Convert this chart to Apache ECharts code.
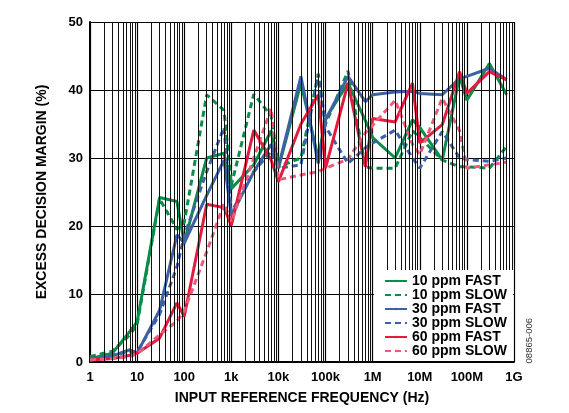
<!DOCTYPE html>
<html>
<head>
<meta charset="utf-8">
<title>Excess decision margin vs input reference frequency</title>
<script src="https://cdn.jsdelivr.net/npm/echarts@6/dist/echarts.min.js"></script>
<style>
  html, body { margin: 0; padding: 0; background: #fff; }
  #chart { width: 569px; height: 413px; }
</style>
</head>
<body>
<div id="chart"></div>
<script>
// input reference frequency (Hz)
var freqs = [1, 3, 7, 10, 30, 70, 100, 300, 700, 1e3, 3e3, 7e3, 1e4, 3e4, 7e4, 1e5, 3e5, 7e5,
             1e6, 3e6, 7e6, 1e7, 3e7, 7e7, 1e8, 3e8, 7e8];

// excess decision margin (%)
var ppm10Fast = [0.5, 1.3, 4.5, 5.9, 24.2, 23.6, 17.5, 30.0, 30.7, 25.5, 29, 34, 28.5, 41, 30, 35.8, 41, 35.5,
                 33, 30, 35.6, 34.5, 29.7, 42, 38.5, 43.9, 39.3];
var ppm10Slow = [0.8, 1.6, 4.0, 5.5, 24, 19.5, 20.5, 39.3, 37, 26, 39.4, 36.2, 28.7, 30, 42.3, 35, 42.8, 28.7,
                 28.5, 28.5, 34, 33, 29.7, 28.7, 28.7, 28.5, 31.7];
var ppm30Fast = [0.3, 0.9, 1.8, 1.3, 7.6, 18.7, 17.5, 24.5, 29.7, 21.5, 28, 32, 28.7, 42, 29.2, 35.6, 42, 38.3,
                 39.3, 39.7, 39.8, 39.5, 39.3, 41.7, 42, 43.2, 41.5];
var ppm30Slow = [0.5, 1.0, 1.5, 1.5, 7, 14, 18.5, 28, 34.5, 22, 28, 31, 28.5, 29, 42.4, 34.6, 29.2, 31.5,
                 32.2, 34.1, 30, 28.5, 33.9, 30, 29.8, 29.5, 30];
var ppm60Fast = [0.3, 0.5, 1.0, 1.3, 3.5, 8.7, 6.7, 23.2, 22.7, 20.1, 34.1, 29.7, 26.5, 35, 39.3, 28.5, 41, 28.7,
                 35.8, 35.3, 41, 32.2, 34.9, 42.7, 39.5, 42.7, 41.5];
var ppm60Slow = [0.3, 0.5, 0.8, 1.2, 4, 6, 7.5, 16.2, 23.3, 20.6, 30, 37.3, 26.8, 27.5, 28, 28.5, 29.8, 33.7,
                 34.8, 38.5, 32, 30.5, 38.8, 34, 28.5, 29, 29.4];

var xTickLabels = ['1', '10', '100', '1k', '10k', '100k', '1M', '10M', '100M', '1G'];
var seriesNames = ['10 ppm FAST', '10 ppm SLOW', '30 ppm FAST', '30 ppm SLOW', '60 ppm FAST', '60 ppm SLOW'];

var GREEN = '#0b8c4b', BLUE = '#3d62a3', RED = '#e41b3e', PINK = '#ec5a7a';
var FONT = 'Liberation Sans, Arial, Helvetica, sans-serif';

function pairs(ys) {
    var out = [];
    for (var i = 0; i < freqs.length; i++) {
        out.push([freqs[i], ys[i]]);
    }
    return out;
}

// 2..9 of each decade, the log grid between the labelled decades
var minorLines = [];
for (var d = 0; d < 9; d++) {
    for (var k = 2; k <= 9; k++) {
        minorLines.push({ xAxis: k * Math.pow(10, d) });
    }
}

function curve(name, ys, color, dashed) {
    return {
        name: name,
        type: 'line',
        data: pairs(ys),
        symbol: 'none',
        z: 3,
        lineStyle: { color: color, width: 3, type: dashed ? [6, 4] : 'solid' },
        itemStyle: { color: color }
    };
}

var myChart = echarts.init(document.getElementById('chart'));

var option = {
    animation: false,
    backgroundColor: '#fff',
    grid: { left: 90, right: 55, top: 22, bottom: 51 },
    legend: {
        data: seriesNames,
        orient: 'vertical',
        left: 373,
        top: 269,
        z: 30,
        padding: [5, 14, 3, 11],
        itemGap: 0,
        itemWidth: 22,
        itemHeight: 3,
        textStyle: { fontFamily: FONT, fontWeight: 'bold', fontSize: 14, color: '#000', lineHeight: 14 }
    },
    xAxis: {
        type: 'log',
        logBase: 10,
        min: 1,
        max: 1e9,
        interval: 1,
        splitNumber: 9,
        name: 'INPUT REFERENCE FREQUENCY (Hz)',
        nameLocation: 'middle',
        nameGap: 29,
        nameTextStyle: { fontFamily: FONT, fontWeight: 'bold', fontSize: 14, color: '#000' },
        axisLine: { lineStyle: { color: '#000', width: 2 } },
        axisTick: { show: false },
        axisLabel: {
            margin: 9,
            fontFamily: FONT, fontWeight: 'bold', fontSize: 13, color: '#000',
            formatter: function (v) {
                return xTickLabels[Math.round(Math.log10(v))];
            }
        },
        splitLine: { show: true, lineStyle: { color: '#000', width: 1.2 } }
    },
    yAxis: {
        type: 'value',
        min: 0,
        max: 50,
        interval: 10,
        name: 'EXCESS DECISION MARGIN (%)',
        nameLocation: 'middle',
        nameGap: 41,
        nameTextStyle: { fontFamily: FONT, fontWeight: 'bold', fontSize: 14, color: '#000' },
        axisLine: { show: true, lineStyle: { color: '#000', width: 2 } },
        axisTick: { show: false },
        axisLabel: { margin: 7, fontFamily: FONT, fontWeight: 'bold', fontSize: 13, color: '#000' },
        splitLine: { show: true, lineStyle: { color: '#000', width: 1.2 } }
    },
    graphic: [
        {
            // white panel behind the legend, hides the grid there
            type: 'rect',
            z: 20,
            shape: { x: 374, y: 270, width: 139, height: 91 },
            style: { fill: '#fff' },
            silent: true
        },
        {
            type: 'text',
            left: 524,
            top: 318,
            rotation: Math.PI / 2,
            style: { text: '08865-006', fontFamily: FONT, fontSize: 9.5, fill: '#333' }
        }
    ],
    series: [
        {
            name: 'grid',
            type: 'line',
            data: [],
            z: 1,
            silent: true,
            markLine: {
                silent: true,
                symbol: 'none',
                label: { show: false },
                animation: false,
                lineStyle: { color: '#111', width: 1, type: 'solid' },
                data: minorLines
            }
        },
        curve(seriesNames[0], ppm10Fast, GREEN, false),
        curve(seriesNames[1], ppm10Slow, GREEN, true),
        curve(seriesNames[2], ppm30Fast, BLUE, false),
        curve(seriesNames[3], ppm30Slow, BLUE, true),
        curve(seriesNames[4], ppm60Fast, RED, false),
        curve(seriesNames[5], ppm60Slow, PINK, true)
    ]
};

myChart.setOption(option);
</script>
</body>
</html>
